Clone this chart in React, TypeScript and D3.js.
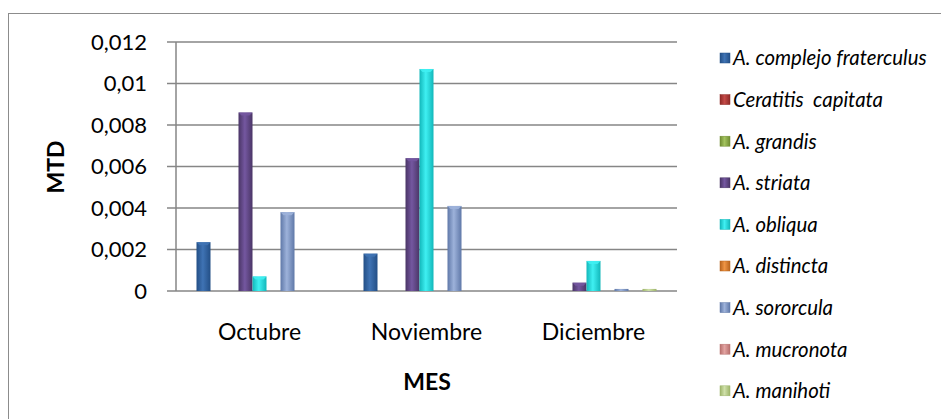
import React from 'react';
import * as d3 from 'd3';

const months = ['Octubre', 'Noviembre', 'Diciembre'];
const species = [
  'A. complejo fraterculus',
  'Ceratitis  capitata',
  'A. grandis',
  'A. striata',
  'A. obliqua',
  'A. distincta',
  'A. sororcula',
  'A. mucronota',
  'A. manihoti',
];
// MTD per species, one value per month (Oct, Nov, Dic)
const fraterculus = [0.00235, 0.0018, 0];
const capitata = [0, 0, 0];
const grandis = [0, 0, 0];
const striata = [0.0086, 0.0064, 0.0004];
const obliqua = [0.0007, 0.0107, 0.00145];
const distincta = [0, 0, 0];
const sororcula = [0.0038, 0.0041, 0.0001];
const mucronota = [0, 0, 0];
const manihoti = [0, 0, 0.0001];
const yTicks = [0, 0.002, 0.004, 0.006, 0.008, 0.01, 0.012];

const seriesValues = [fraterculus, capitata, grandis, striata, obliqua, distincta, sororcula, mucronota, manihoti];
// [dark, light] per series, for the bevelled look
const colors: [string, string][] = [
  ['#234f86', '#3f73b4'],
  ['#8e2a27', '#c44a47'],
  ['#6f8c32', '#a3c35e'],
  ['#4a3566', '#7457a0'],
  ['#12b7ba', '#3ff0f2'],
  ['#b8641d', '#ef9443'],
  ['#5f78a8', '#9db2da'],
  ['#b76f6d', '#e2a3a1'],
  ['#9db46a', '#cfe0a9'],
];

const W = 941;
const H = 419;
const plot = { left: 176, right: 677, top: 42, bottom: 291 };
const font = 'Lato, "Open Sans", sans-serif';

const fmt = (v: number) => (v === 0 ? '0' : String(v).replace('.', ','));

export default function App() {
  const x0 = d3.scaleBand<string>().domain(months).range([plot.left, plot.right]);
  const bw = x0.bandwidth();
  const groupInset = (bw - 126) / 2;
  const x1 = d3.scaleBand<string>().domain(species).range([groupInset, bw - groupInset]);
  const y = d3.scaleLinear().domain([0, 0.012]).range([plot.bottom, plot.top]);

  return (
    <svg width={W} height={H} style={{ position: 'absolute', left: 0, top: 0, background: '#fff' }}>
      <defs>
        {colors.map(([dark, light], i) => (
          <linearGradient key={i} id={`g${i}`} x1="0" x2="1" y1="0" y2="0">
            <stop offset="0" stopColor={dark} />
            <stop offset="0.45" stopColor={light} />
            <stop offset="1" stopColor={dark} />
          </linearGradient>
        ))}
      </defs>
      <rect x={8.5} y={13.5} width={W} height={H} fill="none" stroke="#8c8c8c" strokeWidth={1} />

      {yTicks.map((t) => (
        <g key={t}>
          <line x1={plot.left - 9} x2={plot.right} y1={y(t)} y2={y(t)} stroke="#868686" strokeWidth={1.5} />
          <text x={147} y={y(t)} dy="0.36em" textAnchor="end" fontFamily={font} fontSize={22} fill="#000">
            {fmt(t)}
          </text>
        </g>
      ))}
      <line x1={plot.left} x2={plot.left} y1={plot.top} y2={plot.bottom} stroke="#868686" strokeWidth={1.5} />

      {seriesValues.map((vals, si) =>
        vals.map((v, mi) => {
          if (v <= 0) return null;
          const bx = (x0(months[mi]) ?? 0) + (x1(species[si]) ?? 0);
          const by = y(v);
          const w = x1.bandwidth();
          const h = plot.bottom - by;
          return (
            <g key={`${si}-${mi}`}>
              <rect x={bx} y={by} width={w} height={h} fill={`url(#g${si})`} />
              {h > 4 && (
                <path
                  d={`M${bx},${by}L${bx + w},${by}L${bx + w - 3},${by + 3}L${bx + 3},${by + 3}Z`}
                  fill={colors[si][1]}
                  opacity={0.9}
                />
              )}
            </g>
          );
        })
      )}

      {months.map((m) => (
        <text key={m} x={(x0(m) ?? 0) + bw / 2} y={332} dy="0.36em" textAnchor="middle" fontFamily={font} fontSize={23} fill="#000">
          {m}
        </text>
      ))}
      <text x={427} y={382} dy="0.36em" textAnchor="middle" fontFamily={font} fontSize={23} fontWeight="bold" fill="#000">
        MES
      </text>
      <text
        transform={`translate(56,167) rotate(-90)`}
        dy="0.36em"
        textAnchor="middle"
        fontFamily={font}
        fontSize={23}
        fontWeight="bold"
        fill="#000"
      >
        MTD
      </text>

      {species.map((s, i) => {
        const ly = 58 + i * 41.6;
        return (
          <g key={s}>
            <rect x={720} y={ly - 5} width={10} height={10} fill={`url(#g${i})`} stroke={colors[i][0]} strokeWidth={0.5} />
            <text x={733} y={ly} dy="0.36em" fontFamily={font} fontSize={20.4} fontStyle="italic" fill="#000" style={{ whiteSpace: 'pre' }}>
              {s}
            </text>
          </g>
        );
      })}
    </svg>
  );
}
